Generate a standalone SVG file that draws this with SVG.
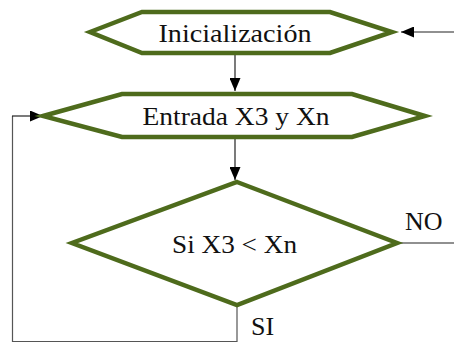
<svg xmlns="http://www.w3.org/2000/svg" width="454" height="344" viewBox="0 0 454 344">
  <style>
    .shape { fill: #ffffff; stroke: #4e6b1c; stroke-width: 4.5; stroke-linejoin: miter; }
    .wire { fill: none; stroke: #222222; stroke-width: 1.2; }
    .loop { fill: none; stroke: #555555; stroke-width: 1.2; }
  </style>
  <defs>
    <marker id="arrow" viewBox="0 0 10 10" refX="10" refY="5" markerWidth="13" markerHeight="11" markerUnits="userSpaceOnUse" orient="auto" preserveAspectRatio="none">
      <path d="M0,0 L10,5 L0,10 Z" fill="#000000"/>
    </marker>
  </defs>
  <rect width="454" height="344" fill="#ffffff"/>

  <g id="connectors">
    <!-- entry from the right into the start block -->
    <line class="wire" x1="454" y1="32" x2="401" y2="32" marker-end="url(#arrow)"/>
    <!-- start block down to input block -->
    <line class="wire" x1="235" y1="54" x2="235" y2="91" marker-end="url(#arrow)"/>
    <!-- input block down to decision -->
    <line class="wire" x1="235" y1="139" x2="235" y2="180" marker-end="url(#arrow)"/>
    <!-- NO branch leaving to the right -->
    <line class="wire" x1="398" y1="243" x2="454" y2="243"/>
    <!-- SI branch looping back to the input block -->
    <polyline class="loop" points="237,306 237,341.5 12.5,341.5 12.5,116" />
    <line class="wire" x1="12" y1="116" x2="43" y2="116" marker-end="url(#arrow)"/>
  </g>

  <g font-family="'Liberation Serif', 'Times New Roman', serif" font-size="26" fill="#111111">
    <g id="node-inicializacion">
      <polygon class="shape" points="90,32 142,12 330,12 392,32 330,53 142,53"/>
      <text x="235" y="42" text-anchor="middle" textLength="153" lengthAdjust="spacingAndGlyphs">Inicialización</text>
    </g>

    <g id="node-entrada">
      <polygon class="shape" points="43,116 122,94 352,94 425,116 352,137 122,137"/>
      <text x="236" y="124.5" text-anchor="middle" textLength="187" lengthAdjust="spacingAndGlyphs">Entrada X3 y Xn</text>
    </g>

    <g id="node-decision">
      <polygon class="shape" points="237,182 397,243 237,305 72,243"/>
      <text x="234.5" y="253" text-anchor="middle" textLength="125" lengthAdjust="spacingAndGlyphs">Si X3 &lt; Xn</text>
    </g>

    <text x="405" y="230">NO</text>
    <text x="251" y="335">SI</text>
  </g>
</svg>
